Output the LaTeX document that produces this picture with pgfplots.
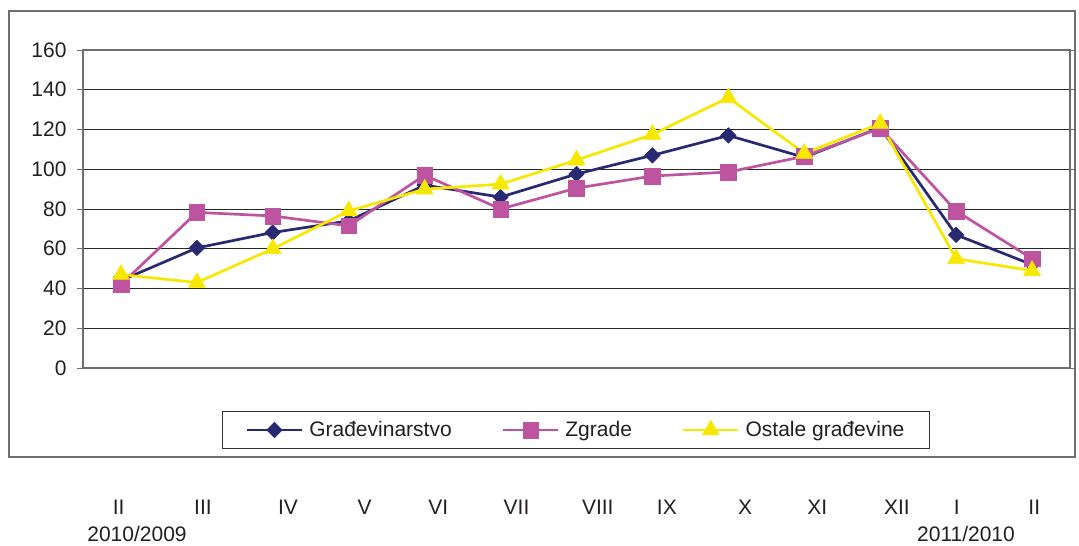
\documentclass[border=0pt]{standalone}
\usepackage{pgfplots}
\pgfplotsset{compat=1.18}
\usepackage{fontspec}
\setmainfont{Liberation Sans}
\definecolor{navyc}{RGB}{40,40,115}
\definecolor{pinkc}{RGB}{190,84,160}
\definecolor{yelc}{RGB}{248,232,0}
\definecolor{txt}{RGB}{35,31,32}
\definecolor{framec}{RGB}{110,110,110}
\newcommand{\lf}{\fontsize{21}{24}\selectfont}
\begin{document}
\begin{tikzpicture}
\useasboundingbox (0pt,0pt) rectangle (1079pt,-546pt);
\draw[framec, line width=1.5pt] (9pt,-11pt) rectangle (1075pt,-457pt);
\begin{axis}[
  at={(83pt,-368pt)}, anchor=south west,
  scale only axis, width=987pt, height=318pt,
  xmin=-0.5, xmax=12.5, ymin=0, ymax=160,
  ytick={0,20,...,160},
  ymajorgrids, grid style={black!85, line width=0.8pt},
  axis line style={framec, line width=1.5pt},
  tick align=outside, major tick length=6pt,
  ytick style={framec, line width=1pt},
  xtick style={draw=none},
  /pgf/number format/assume math mode=true,
  tick label style={font=\lf, text=txt},
  yticklabel style={xshift=-7pt},
  xtick={-0.03,1.08,2.20,3.21,4.18,5.21,6.28,7.19,8.22,9.17,10.22,11.01,12.03},
  xticklabels={II,III,IV,V,VI,VII,VIII,IX,X,XI,XII,I,II},
  xticklabel style={anchor=base, yshift=-140pt},
  legend cell align=left,
  legend style={at={(0.4995,-0.195)}, anchor=center, draw=black!80, line width=0.8pt,
    font=\lf, text=txt, inner xsep=23pt, inner ysep=8pt,
    /tikz/every odd column/.append style={column sep=4pt},
    /tikz/every even column/.append style={column sep=48pt}},
  legend columns=3,
  legend image code/.code={\draw[mark repeat=2,mark phase=2] plot coordinates {(0pt,0pt) (27.5pt,0pt) (55pt,0pt)};},
]
\addplot[navyc, line width=2.7pt, mark=square*, mark size=5.5pt, mark options={rotate=45, line width=0.5pt, solid}]
 coordinates {(0,44) (1,60.4) (2,68.2) (3,74) (4,92) (5,86) (6,97.6) (7,107) (8,117) (9,106) (10,121) (11,67) (12,52)};
\addplot[pinkc, line width=2.7pt, mark=square*, mark size=7.8pt, mark options={line width=0.5pt, solid}]
 coordinates {(0,42) (1,78.3) (2,76.5) (3,71.5) (4,97) (5,80) (6,90.5) (7,96.6) (8,98.6) (9,106.5) (10,120.7) (11,79) (12,55)};
\addplot[yelc, line width=2.7pt, mark=triangle*, mark size=9.8pt, mark options={line width=0.5pt, solid}]
 coordinates {(0,47) (1,43) (2,60) (3,79) (4,90) (5,92.5) (6,104.6) (7,117.5) (8,136) (9,108) (10,123) (11,55) (12,49)};
\legend{Građevinarstvo, Zgrade, Ostale građevine}
\end{axis}
\node[anchor=base, font=\lf, text=txt] at (137pt,-541pt) {2010/2009};
\node[anchor=base, font=\lf, text=txt] at (966pt,-541pt) {2011/2010};
\end{tikzpicture}
\end{document}
